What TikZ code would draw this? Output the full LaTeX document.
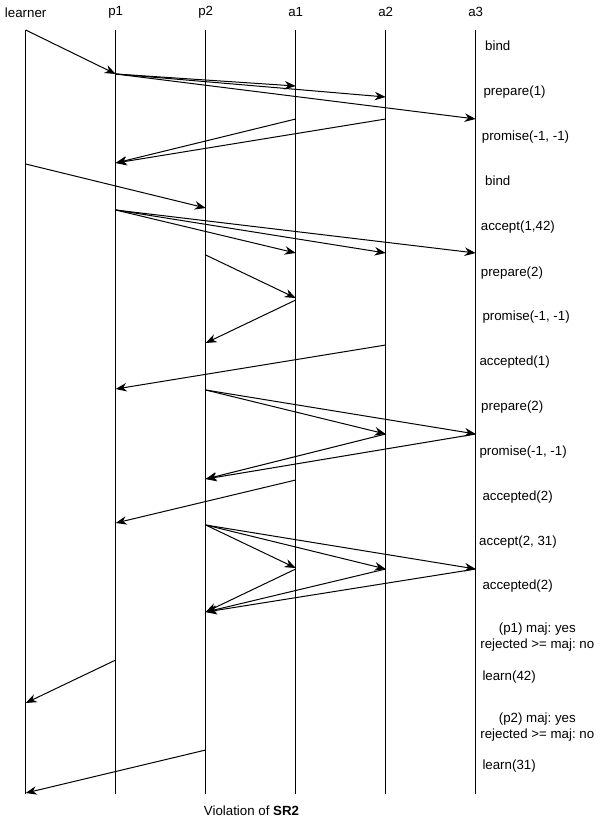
\documentclass[tikz,border=0pt]{standalone}
\usepackage{fontspec}
\setmainfont{Liberation Sans}
\usetikzlibrary{arrows.meta}
\frenchspacing
\begin{document}
\begin{tikzpicture}[x=1pt,y=-1pt,
  every node/.style={font=\fontsize{13.3}{16}\selectfont, inner sep=0pt},
  lifeline/.style={line width=1pt},
  msg/.style={line width=1pt, -{Stealth[length=11pt,width=8.5pt,inset=3.5pt]}},
  lbl/.style={anchor=west},
  twoline/.style={align=center},
]
\fill[white] (0,0) rectangle (603,822);
\useasboundingbox (0,0) rectangle (603,822);

% participants and their lifelines
\foreach \n/\x/\t in {L/25.7/learner, P1/115.7/p1, P2/205.7/p2, A1/295.7/a1, A2/385.7/a2, A3/475.7/a3}{
  \node (h\n) at (\x,12.3) {\t};
  \coordinate (\n top) at (\x,30);
  \coordinate (\n bot) at (\x,794);
  \draw[lifeline] (\n top) -- (\n bot);
}

% message end points on the lifelines
\foreach \n/\y in {L/30, L/164, L/703, L/793,
                   P1/74, P1/163, P1/210, P1/389, P1/523, P1/660,
                   P2/208, P2/255, P2/343, P2/390, P2/479, P2/525, P2/612, P2/750,
                   A1/86, A1/119, A1/253, A1/298, A1/300, A1/480, A1/568, A1/569,
                   A2/97, A2/119, A2/253, A2/345, A2/434, A2/569,
                   A3/119, A3/253, A3/434, A3/569}{
  \coordinate (\n-\y) at (\n top |- 0,\y);
}

% round 1
\draw[msg] (L-30) -- (P1-74);
\draw[msg] (P1-74) -- (A1-86);
\draw[msg] (P1-74) -- (A2-97);
\draw[msg] (P1-74) -- (A3-119);
\draw[msg] (A1-119) -- (P1-163);
\draw[msg] (A2-119) -- (P1-163);
\draw[msg] (L-164) -- (P2-208);
\draw[msg] (P1-210) -- (A1-253);
\draw[msg] (P1-210) -- (A2-253);
\draw[msg] (P1-210) -- (A3-253);
% round 2
\draw[msg] (P2-255) -- (A1-298);
\draw[msg] (A1-300) -- (P2-343);
\draw[msg] (A2-345) -- (P1-389);
\draw[msg] (P2-390) -- (A2-434);
\draw[msg] (P2-390) -- (A3-434);
\draw[msg] (A2-434) -- (P2-479);
\draw[msg] (A3-434) -- (P2-479);
\draw[msg] (A1-480) -- (P1-523);
\draw[msg] (P2-525) -- (A1-568);
\draw[msg] (P2-525) -- (A2-569);
\draw[msg] (P2-525) -- (A3-569);
\draw[msg] (A1-569) -- (P2-612);
\draw[msg] (A2-569) -- (P2-612);
\draw[msg] (A3-569) -- (P2-612);
% learning
\draw[msg] (P1-660) -- (L-703);
\draw[msg] (P2-750) -- (L-793);

% message labels
\node[lbl] (t1)  at (485,46)    {bind};
\node[lbl] (t2)  at (483.3,91.7) {prepare(1)};
\node[lbl] (t3)  at (481.7,136.7) {promise(-1, -1)};
\node[lbl] (t4)  at (485,181)   {bind};
\node[lbl] (t5)  at (480.7,226.7) {accept(1,42)};
\node[lbl] (t6)  at (480.7,273) {prepare(2)};
\node[lbl] (t7)  at (482.3,316.7) {promise(-1, -1)};
\node[lbl] (t8)  at (479.3,361.7) {accepted(1)};
\node[lbl] (t9)  at (481,407)   {prepare(2)};
\node[lbl] (t10) at (479.3,451.7) {promise(-1, -1)};
\node[lbl] (t11) at (482.3,496.7) {accepted(2)};
\node[lbl] (t12) at (479,541.7) {accept(2, 31)};
\node[lbl] (t13) at (482.3,585.7) {accepted(2)};
\node[twoline] (t14) at (537.3,637) {(p1) maj: yes\\rejected >= maj: no};
\node[lbl] (t15) at (482.3,676.7) {learn(42)};
\node[twoline] (t16) at (537.3,727) {(p2) maj: yes\\rejected >= maj: no};
\node[lbl] (t17) at (482.3,766) {learn(31)};

% caption
\node (cap) at (251.5,811) {Violation of \textbf{SR2}};
\end{tikzpicture}
\end{document}
